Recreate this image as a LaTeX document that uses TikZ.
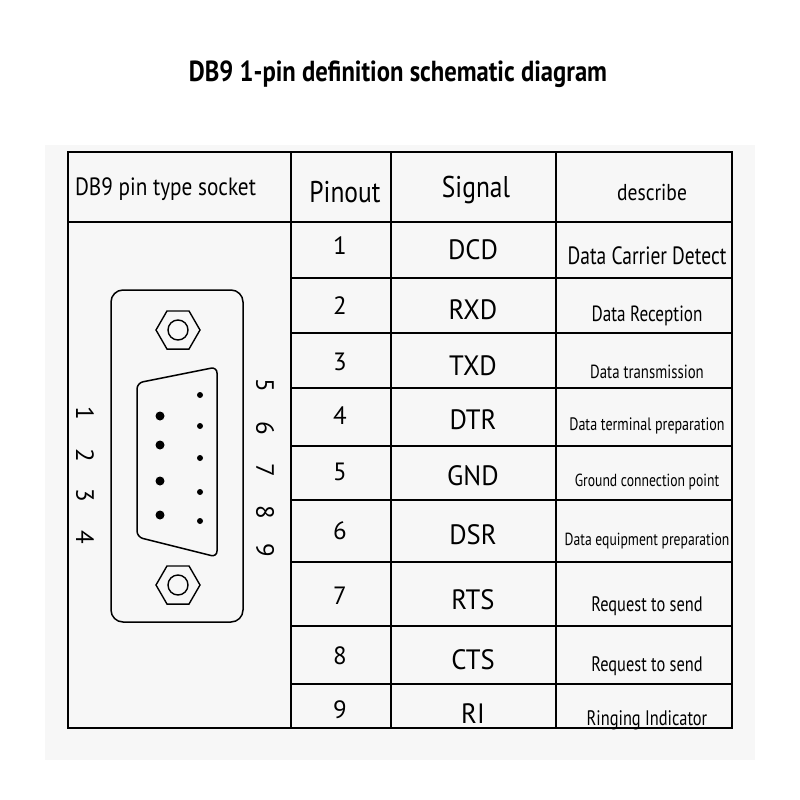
\documentclass[tikz,border=0pt]{standalone}
\usepackage{fontspec}
\setmainfont{PT Sans}
\begin{document}
\begin{tikzpicture}[x=1pt,y=-1pt,
  grid/.style={line width=2.5pt},
  cell/.style={font=\fontsize{25}{30}\selectfont},
  pinnum/.style={font=\fontsize{25}{30}\selectfont,rotate=-90},
  bigpin/.style={circle,fill,inner sep=0pt,minimum size=9pt},
  smallpin/.style={circle,fill,inner sep=0pt,minimum size=6pt}]
  \useasboundingbox (0,0) rectangle (800,800);
  \fill[white] (0,0) rectangle (800,800);
  \fill[black!3] (45,145) rectangle (755,760);
  \node[font=\bfseries\fontsize{29}{34}\selectfont,xscale=0.85] (title) at (398,74) {DB9 1-pin definition schematic diagram};
  % table frame
  \draw[grid] (68,152) rectangle (732,728);
  \foreach \x in {291,391,556} \draw[grid] (\x,152) -- (\x,728);
  \draw[grid] (68,222) -- (732,222);
  \foreach \y in {278,333,388,446,500,562,626,684} \draw[line width=2pt] (291,\y) -- (732,\y);
  % header
  \node[font=\fontsize{25}{30}\selectfont,anchor=west,xscale=0.85] (hsock) at (72,189) {DB9 pin type socket};
  \node[font=\fontsize{30}{34}\selectfont,xscale=0.85] (hpin) at (345,192) {Pinout};
  \node[font=\fontsize{30}{34}\selectfont,xscale=0.85] (hsig) at (476,190) {Signal};
  \node[font=\fontsize{23}{26}\selectfont,xscale=0.85] (hdesc) at (652,192) {describe};
  % rows
  \foreach \n/\y/\s/\d/\f in {
    1/246/DCD/Data Carrier Detect/25,
    2/306/RXD/Data Reception/22,
    3/362/TXD/Data transmission/19,
    4/416/DTR/Data terminal preparation/18,
    5/472/GND/Ground connection point/17.5,
    6/531/DSR/Data equipment preparation/17.5,
    7/596/RTS/Request to send/21,
    8/656/CTS/Request to send/21,
    9/710/RI/Ringing Indicator/21} {
    \node[cell] (pin\n) at (340,\y) {\n};
    \node[font=\fontsize{28}{32}\selectfont,xscale=0.95] (sig\n) at (473,\y+4) {\s};
    \node[font=\fontsize{\f}{24}\selectfont,xscale=0.78] (desc\n) at (647,\y+10) {\d};
  }
  % connector
  \draw[line width=1.5pt,rounded corners=12pt] (111,290) rectangle (243,622);
  \foreach \y/\nm in {330/nutA,585/nutB} {
    \draw[line width=1.4pt] (178,\y) +(0:22) -- +(60:22) -- +(120:22) -- +(180:22) -- +(240:22) -- +(300:22) -- cycle;
    \draw[line width=1.4pt] (178,\y) circle (10);
  }
  \draw[line width=1.5pt,rounded corners=6pt] (137,383) -- (217,367) -- (217,557) -- (137,537) -- cycle;
  \foreach \y [count=\i] in {416,445,481,515} \node[bigpin] (p\i) at (160,\y) {};
  \foreach \y [count=\i from 5] in {395,426,458,492,521} \node[smallpin] (p\i) at (200,\y) {};
  \foreach \y [count=\i] in {413,455,495,537} \node[pinnum] (l\i) at (85,\y) {\i};
  \foreach \y [count=\i from 5] in {385,428,470,512,550} \node[pinnum] (l\i) at (265,\y) {\i};
\end{tikzpicture}
\end{document}
